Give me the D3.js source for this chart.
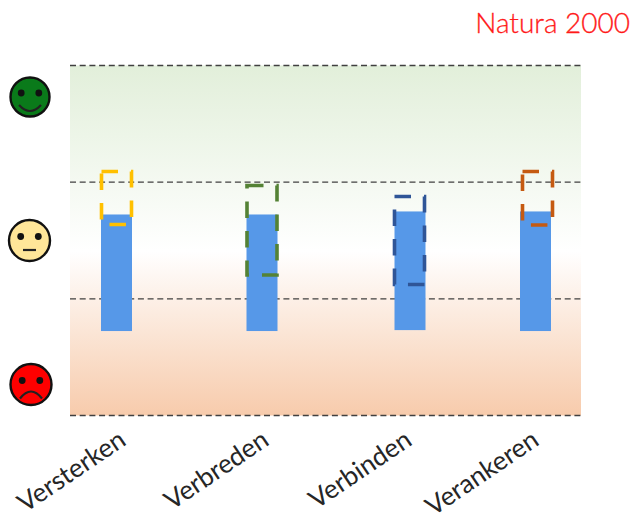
<!DOCTYPE html>
<html><head><meta charset="utf-8">
<script src="https://cdnjs.cloudflare.com/ajax/libs/d3/7.8.5/d3.min.js"></script>
<style>html,body{margin:0;padding:0;background:#fff}svg{display:block}text{font-family:Lato,"Open Sans",sans-serif}</style>
</head><body><svg id="c" width="635" height="514"></svg>
<script>
const title = "Natura 2000";
const categories = ["Versterken","Verbreden","Verbinden","Verankeren"];
const barTop = [0.223,0.223,0.249,0.249];
const barBase = [-0.776,-0.776,-0.768,-0.776];
const targetTop = [0.591,0.471,0.377,0.591];
const targetBase = [0.137,-0.296,-0.377,0.133];
const gridValues = [-1.5,-0.5,0.5,1.5];
const moods = [1,0,-1];

const svg = d3.select("#c");
const y = d3.scaleLinear().domain([-1.5,1.5]).range([415.5,65.5]);
const xBar = d3.scaleOrdinal().domain(categories).range([116.5,262,410,535.5]);
const xTarget = d3.scaleOrdinal().domain(categories).range([116.5,262,409.5,537.5]);
const xLabel = d3.scaleOrdinal().domain(categories).range([127.5,270.5,413.5,540.5]);
const targetColors = d3.scaleOrdinal().domain(categories).range(["#ffc000","#548235","#2f5597","#c55a11"]);
const faceX = d3.scaleOrdinal().domain(moods).range([30,29.5,31]);
const faceY = d3.scaleOrdinal().domain(moods).range([97,240.5,384.5]);
const faceR = d3.scaleOrdinal().domain(moods).range([19.5,20.5,20.5]);
const barW = 31, targetW = 30;

const defs = svg.append("defs");
const g = defs.append("linearGradient").attr("id","bg").attr("x1",0).attr("x2",0).attr("y1",0).attr("y2",1);
[[0,"#e2efda"],[0.53,"#ffffff"],[1,"#f7cbac"]].forEach(([o,c])=>g.append("stop").attr("offset",o).attr("stop-color",c));

svg.append("rect").attr("x",70).attr("y",y(1.5)).attr("width",511).attr("height",y(-1.5)-y(1.5)).attr("fill","url(#bg)");

svg.selectAll(".grid").data(gridValues).join("line").attr("class","grid")
  .attr("x1",70).attr("x2",581).attr("y1",d=>y(d)).attr("y2",d=>y(d))
  .attr("stroke","#404040").attr("stroke-width",1.3).attr("stroke-dasharray","6 3.7");

svg.selectAll(".bar").data(categories).join("rect").attr("class","bar")
  .attr("x",d=>xBar(d)-barW/2).attr("width",barW)
  .attr("y",(d,i)=>y(barTop[i])).attr("height",(d,i)=>y(barBase[i])-y(barTop[i]))
  .attr("fill","#5698e8");

svg.selectAll(".target").data(categories).join("rect").attr("class","target")
  .attr("x",d=>xTarget(d)-targetW/2).attr("width",targetW)
  .attr("y",(d,i)=>y(targetTop[i])).attr("height",(d,i)=>y(targetBase[i])-y(targetTop[i]))
  .attr("fill","none").attr("stroke",d=>targetColors(d)).attr("stroke-width",3.6)
  .attr("stroke-dasharray","16.5 13");

svg.selectAll(".lab").data(categories).join("text").attr("class","lab")
  .attr("transform",d=>`translate(${xLabel(d)},444) rotate(-34)`)
  .attr("text-anchor","end").attr("font-size",26).attr("fill","#262626").text(d=>d);

svg.append("text").attr("x",630).attr("y",33).attr("text-anchor","end")
  .attr("font-size",28).attr("font-weight",300).attr("fill","#ff1a1a")
  .attr("stroke","#ff1a1a").attr("stroke-width",0.3).text(title);

const face = svg.selectAll(".face").data(moods).join("g").attr("class","face")
  .attr("transform",d=>`translate(${faceX(d)},${faceY(d)})`);
face.append("circle").attr("r",d=>faceR(d)).attr("stroke","#111").attr("stroke-width",2.4)
  .attr("fill",d=>d>0?"#0a7a1a":d<0?"#fe0000":"#ffe699");
face.selectAll(".eye").data([-1,1]).join("circle").attr("class","eye")
  .attr("cx",s=>s*8.8).attr("cy",-4).attr("r",3.4).attr("fill","#111");
face.append("path").attr("fill","none").attr("stroke","#222").attr("stroke-width",2.2)
  .attr("d",d=>d>0?"M-11,8Q0,20 11,8":d<0?"M-11,14Q0,0 11,14":"M-6.5,9.5H6.5");
</script></body></html>
